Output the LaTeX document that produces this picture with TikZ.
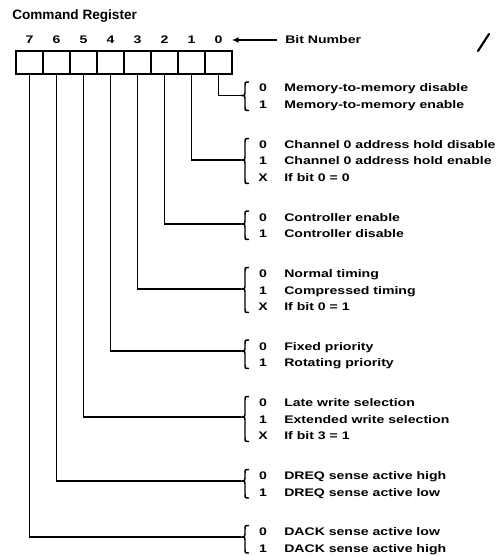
\documentclass[tikz,border=0pt]{standalone}
\usepackage{fontspec}
\setmainfont{Liberation Sans}
\newfontfamily\labfont{Liberation Sans}[FakeStretch=1.28]
\usetikzlibrary{arrows.meta}
\tikzset{
  wire/.style={line width=1.1pt},
  cell/.style={draw, line width=1.2pt, minimum width=20.25pt, minimum height=17.25pt, inner sep=0pt},
  lab/.style={font=\labfont\bfseries\fontsize{8.25}{10}\selectfont, inner sep=0pt},
  titlefont/.style={font=\bfseries\fontsize{10.2}{12}\selectfont, inner sep=0pt},
  bitarrow/.style={line width=1.1pt, -{Latex[length=5pt,width=4.5pt]}}
}
\newcommand\regbrace[3]{%
  \draw[wire] (249,#1) .. controls (245,#1) .. (245,{#1+4}) -- (245,{#2-3})
    .. controls (245,#2) .. (241,#2) .. controls (245,#2) .. (245,{#2+3})
    -- (245,{#3-4}) .. controls (245,#3) .. (249,#3);}
\newcommand\optline[4]{%
  \node[lab,anchor=base] (d#1) at (263,{#2+4}) {#3};
  \node[lab,anchor=base west] (t#1) at (284,{#2+4}) {#4};}
\begin{document}
\begin{tikzpicture}[x=0.75pt,y=-0.75pt]
\useasboundingbox (0,0) rectangle (496,556);
\node[titlefont,anchor=base west] (title) at (12,20) {Command Register};
% bit numbers and cells
\foreach \i in {0,...,7}{
  \node[lab] (n\i) at ({218.5-27*\i},40) {\i};
  \node[cell] (b\i) at ({218.5-27*\i},62.5) {};
}
\node[lab,anchor=west] (bitlbl) at (285,40) {Bit Number};
\coordinate (tip) at (232,40);
\draw[bitarrow,shorten <=6pt] (bitlbl.west) -- (tip);
% scan mark
\draw[line width=1.6pt,line cap=round] (478,51) -- (489,34);
% brace cusps
\coordinate (c0) at (241,95.5);
\coordinate (c1) at (241,160);
\coordinate (c2) at (241,224);
\coordinate (c3) at (241,289);
\coordinate (c4) at (241,351);
\coordinate (c5) at (241,417);
\coordinate (c6) at (241,481);
\coordinate (c7) at (241,537);
% connectors
\foreach \i in {0,...,7}{ \draw[wire] (b\i.south) |- (c\i); }
% braces
\regbrace{82}{95.5}{110.5}
\regbrace{138.5}{160}{183.5}
\regbrace{211}{224}{239.5}
\regbrace{267.5}{289}{312.5}
\regbrace{340}{351}{368.5}
\regbrace{396.5}{417}{441.5}
\regbrace{469.5}{481}{498}
\regbrace{525.5}{537}{553}
% option texts
\optline{0a}{88}{0}{Memory-to-memory disable}
\optline{0b}{104.5}{1}{Memory-to-memory enable}
\optline{1a}{144.5}{0}{Channel 0 address hold disable}
\optline{1b}{161}{1}{Channel 0 address hold enable}
\optline{1c}{177.5}{X}{If bit 0 = 0}
\optline{2a}{217}{0}{Controller enable}
\optline{2b}{233.5}{1}{Controller disable}
\optline{3a}{273.5}{0}{Normal timing}
\optline{3b}{290}{1}{Compressed timing}
\optline{3c}{306.5}{X}{If bit 0 = 1}
\optline{4a}{346}{0}{Fixed priority}
\optline{4b}{362.5}{1}{Rotating priority}
\optline{5a}{402.5}{0}{Late write selection}
\optline{5b}{419}{1}{Extended write selection}
\optline{5c}{435.5}{X}{If bit 3 = 1}
\optline{6a}{475.5}{0}{DREQ sense active high}
\optline{6b}{492}{1}{DREQ sense active low}
\optline{7a}{531.5}{0}{DACK sense active low}
\optline{7b}{548}{1}{DACK sense active high}
\end{tikzpicture}
\end{document}
